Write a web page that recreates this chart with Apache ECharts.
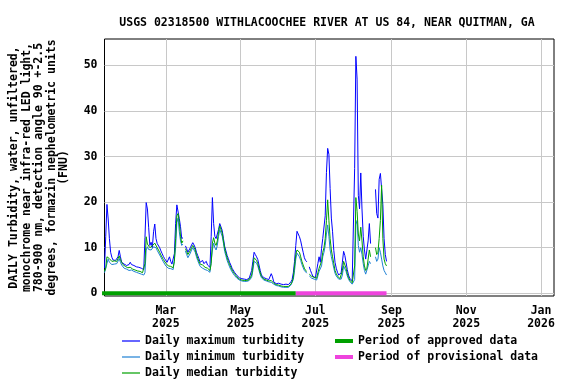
<!DOCTYPE html>
<html><head><meta charset="utf-8">
<script src="https://cdn.jsdelivr.net/npm/echarts@6/dist/echarts.min.js"></script>
<style>html,body{margin:0;padding:0;background:#fff}#c{width:576px;height:384px}</style>
</head><body><div id="c"></div>
<script>
// Daily values, one per day starting 2025-01-10 (null = missing day)
const startDay = [2025, 0, 10];
const maxTurb = [
5.5,12.4,19.5,16.3,12.0,9.0,7.9,7.3,7.7,7.2,
7.6,8.0,9.4,8.0,6.8,6.6,6.4,6.3,6.1,6.0,
6.3,6.8,6.3,6.0,6.1,6.0,5.8,5.7,5.7,5.9,
5.5,5.3,5.2,12.2,19.9,18.5,14.5,10.5,11.2,10.0,
13.5,15.2,12.0,10.9,10.5,10.0,9.3,8.7,8.1,7.6,
7.2,6.8,6.5,8.0,7.0,6.4,6.2,8.7,15.3,19.4,
19.0,16.4,14.6,12.0,12.2,null,10.4,9.8,9.0,9.4,
10.0,10.6,11.1,10.6,10.0,9.0,8.3,7.6,6.8,6.6,
7.2,6.5,6.4,7.0,6.2,5.9,5.7,12.4,21.0,15.3,
12.5,12.0,12.3,14.0,15.3,15.0,13.8,12.0,10.3,9.3,
8.3,7.6,6.8,6.2,5.5,5.1,4.6,4.3,3.9,3.6,
3.4,3.2,3.2,3.1,3.1,3.1,3.0,3.2,3.3,3.6,
5.0,7.0,9.0,8.5,8.0,7.4,6.2,5.0,4.0,3.6,
3.4,3.3,3.2,3.1,3.0,2.8,4.3,3.6,2.5,2.3,
2.1,2.0,2.2,2.1,2.0,1.7,1.9,1.7,2.0,1.7,
1.9,2.1,2.5,3.0,4.5,7.0,10.5,13.6,13.2,12.4,
11.5,10.2,9.0,7.8,7.2,6.9,null,5.8,5.0,4.3,
3.7,3.5,3.4,3.6,6.5,8.0,6.8,9.8,12.0,12.2,
17.0,26.5,31.8,30.5,23.0,16.5,13.5,9.4,6.8,5.5,
4.6,4.0,3.7,4.5,6.8,9.2,8.3,6.8,5.2,4.0,
3.3,3.0,2.7,2.5,27.4,52.0,47.0,21.5,18.5,26.4,
18.5,12.5,9.5,7.5,7.2,11.5,15.3,10.9,null,null,
null,22.8,17.5,16.5,25.0,26.3,26.5,19.5,12.0,8.5,7.0
];
const minTurb = [
4.5,4.6,6.5,7.5,6.8,6.6,6.3,6.5,6.4,6.2,
6.5,6.8,7.6,6.8,6.2,5.8,5.5,5.4,5.3,5.1,
5.0,5.2,5.1,4.9,4.8,4.7,4.6,4.5,4.4,4.4,
4.2,4.0,4.0,4.5,9.5,10.2,9.6,9.3,9.5,9.8,
10.2,10.5,10.0,9.4,9.0,8.4,7.9,7.4,6.9,6.5,
6.0,5.7,5.5,5.6,5.4,5.2,5.2,5.6,10.0,15.5,
16.5,13.5,11.5,10.5,10.8,null,9.3,8.5,7.8,8.2,
8.8,9.5,10.0,9.6,9.0,8.0,7.2,6.5,5.9,5.5,
5.5,5.3,5.2,5.2,5.0,4.7,4.6,5.0,9.5,11.0,
10.0,9.5,10.5,12.5,14.0,13.8,12.5,11.0,9.2,8.2,
7.2,6.5,5.8,5.2,4.7,4.3,3.9,3.6,3.3,3.0,
2.9,2.8,2.7,2.7,2.6,2.6,2.6,2.7,2.8,3.0,
3.5,5.0,7.0,7.3,6.6,6.0,5.0,4.1,3.4,3.0,
2.9,2.8,2.7,2.6,2.5,2.3,2.4,2.6,2.0,1.8,
1.7,1.5,1.6,1.6,1.4,1.3,1.3,1.2,1.3,1.2,
1.3,1.5,1.8,2.2,3.0,5.0,7.5,8.8,8.6,8.0,
7.2,6.3,5.6,5.0,4.6,4.4,null,3.8,3.5,3.3,
3.2,3.1,3.0,2.9,3.8,4.8,5.0,6.0,8.0,9.0,
10.5,13.0,15.0,12.5,9.5,8.0,6.8,5.5,4.4,3.8,
3.4,3.1,2.9,3.1,4.0,6.0,6.0,4.8,3.8,3.1,
2.6,2.3,2.0,1.8,3.0,15.0,16.0,10.5,9.0,10.0,
8.5,6.5,5.0,4.2,4.5,6.0,7.0,6.5,null,null,
null,8.0,7.0,7.5,10.0,9.0,7.5,6.0,5.0,4.5,4.0
];
const medTurb = [
4.8,5.5,8.0,8.2,7.6,7.3,7.0,6.9,7.1,6.8,
7.0,7.2,8.2,7.4,6.8,6.3,6.0,5.9,5.8,5.6,
5.5,5.7,5.5,5.3,5.2,5.1,5.0,4.9,4.8,4.8,
4.6,4.5,4.3,6.5,12.4,10.8,10.4,10.0,10.2,10.4,
10.8,11.0,10.6,10.0,9.6,9.0,8.4,8.0,7.4,7.0,
6.6,6.2,6.0,6.2,5.9,5.7,5.6,7.0,12.0,17.0,
17.5,15.5,12.5,11.0,11.5,null,9.8,9.2,8.5,8.8,
9.4,10.0,10.5,10.2,9.5,8.5,7.7,7.0,6.4,6.0,
6.2,5.9,5.7,5.8,5.5,5.2,5.0,6.5,11.0,12.2,
11.0,10.5,11.5,13.5,14.8,14.5,13.2,11.5,9.8,8.8,
7.8,7.0,6.3,5.7,5.1,4.7,4.3,3.9,3.6,3.3,
3.1,3.0,2.9,2.9,2.8,2.8,2.8,2.9,3.0,3.2,
4.0,5.8,7.8,8.0,7.2,6.5,5.5,4.5,3.7,3.3,
3.1,3.0,2.9,2.8,2.7,2.5,2.8,2.9,2.2,2.0,
1.9,1.7,1.8,1.8,1.6,1.5,1.5,1.4,1.5,1.4,
1.5,1.7,2.0,2.5,3.5,6.0,8.5,9.5,9.4,9.0,
8.0,7.0,6.2,5.5,5.0,4.8,null,4.2,3.9,3.7,
3.6,3.5,3.4,3.3,4.5,5.5,5.8,7.0,9.0,10.0,
12.0,16.0,20.5,16.0,12.0,9.5,8.0,6.5,5.0,4.3,
3.8,3.4,3.2,3.5,5.0,7.0,7.0,5.5,4.3,3.5,
2.9,2.6,2.3,2.1,6.0,21.0,18.0,13.0,11.5,14.5,
11.5,8.0,6.0,5.0,5.5,7.5,9.5,8.0,null,null,
null,10.0,8.5,9.0,12.0,16.0,23.7,12.0,7.5,6.5,6.0
];
const approvedPeriod = ['2025-01-08', '2025-06-15'];
const provisionalPeriod = ['2025-06-15', '2025-08-28'];
const xTickDates = ['2025-03-01','2025-05-01','2025-07-01','2025-09-01','2025-11-01','2026-01-01'];
const yTicks = [0, 10, 20, 30, 40, 50];
const monthNames = ['Jan','Feb','Mar','Apr','May','Jun','Jul','Aug','Sep','Oct','Nov','Dec'];
const seriesNames = ['Daily maximum turbidity','Daily minimum turbidity','Daily median turbidity'];
const periodNames = ['Period of approved data','Period of provisional data'];

function ts(s){ const p = s.split('-').map(Number); return new Date(p[0], p[1]-1, p[2]).getTime(); }
function dayTs(i){ return new Date(startDay[0], startDay[1], startDay[2] + i).getTime(); }
function pairs(arr){ return arr.map((v,i) => [dayTs(i), v]); }

const FONT = "'DejaVu Sans Mono', monospace";
const txt = {fontFamily: FONT, fontSize: 11.5, fontWeight: 'bold', color: '#000'};
const C = {max:'#0000ff', min:'#1f80d4', med:'#00a000', appr:'#00a000', prov:'#ee44dd'};

function lineSeries(name, data, color, width, clip){
  return {name, type:'line', data, symbol:'none', showSymbol:false, connectNulls:false,
    clip: clip, lineStyle:{width, color}, itemStyle:{color}, emphasis:{disabled:true}, animation:false};
}

const chart = echarts.init(document.getElementById('c'), null, {renderer:'canvas'});
chart.setOption({
  animation: false,
  backgroundColor: '#fff',
  title: {text: 'USGS 02318500 WITHLACOOCHEE RIVER AT US 84, NEAR QUITMAN, GA',
    left: 322, textAlign: 'center', top: 12, textStyle: Object.assign({}, txt)},
  grid: {left: 103, top: 39, width: 451, height: 257, show: true, borderColor: '#000', borderWidth: 1, backgroundColor: 'transparent', containLabel: false},
  xAxis: {type: 'value', min: ts('2025-01-10'), max: ts('2026-01-11') + 14*3600e3,
    axisLine: {show: false}, axisTick: {show: false, customValues: xTickDates.map(ts)},
    splitLine: {show: true, lineStyle: {color: '#c8c8c8', width: 1}},
    axisLabel: {customValues: xTickDates.map(ts), margin: 9, lineHeight: 13,
      formatter: v => { const d = new Date(v); return monthNames[d.getMonth()] + '\n' + d.getFullYear(); },
      fontFamily: FONT, fontSize: 11.5, fontWeight: 'bold', color: '#000'}},
  yAxis: {type: 'value', min: -0.6, max: 55.8,
    name: 'DAILY Turbidity, water, unfiltered,\nmonochrome near infra-red LED light,\n780-900 nm, detection angle 90 +-2.5\ndegrees, formazin nephelometric units\n(FNU)',
    nameLocation: 'middle', nameRotate: 90, nameGap: 34,
    nameTextStyle: Object.assign({lineHeight: 12.5, align: 'center'}, txt),
    axisLine: {show: false}, axisTick: {show: false, customValues: yTicks},
    splitLine: {show: true, lineStyle: {color: '#c8c8c8', width: 1}},
    axisLabel: {customValues: yTicks, margin: 7, fontFamily: FONT, fontSize: 11.5, fontWeight: 'bold', color: '#000'}},
  legend: [
    {data: seriesNames.map(n => ({name: n, icon: 'rect'})), orient: 'vertical', left: 122, top: 334, padding: 0,
     height: 50, itemWidth: 18, itemHeight: 1.2, itemGap: 2, selectedMode: false,
     textStyle: Object.assign({lineHeight: 14}, txt)},
    {data: periodNames.map(n => ({name: n, icon: 'rect'})), orient: 'vertical', left: 335, top: 334, padding: 0,
     height: 50, itemWidth: 18, itemHeight: 4, itemGap: 2, selectedMode: false,
     textStyle: Object.assign({lineHeight: 14}, txt)}
  ],
  series: [
    lineSeries(seriesNames[0], pairs(maxTurb), C.max, 1, true),
    lineSeries(seriesNames[1], pairs(minTurb), C.min, 1, true),
    lineSeries(seriesNames[2], pairs(medTurb), C.med, 1, true),
    lineSeries(periodNames[0], approvedPeriod.map(d => [ts(d), 0]), C.appr, 4, false),
    lineSeries(periodNames[1], provisionalPeriod.map(d => [ts(d), 0]), C.prov, 4, false)
  ]
});
</script></body></html>
